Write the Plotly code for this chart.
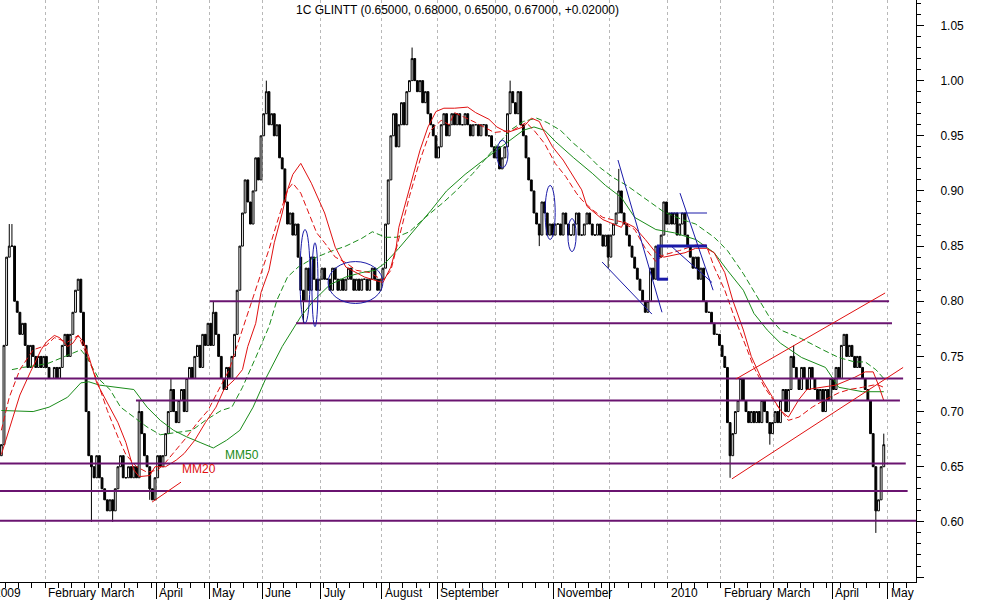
import plotly.graph_objects as go

# ---------------- data ----------------
first_open = 0.66
closes = [
    0.67, 0.76, 0.84, 0.85, 0.85, 0.80, 0.79, 0.77, 0.78, 0.76,
    0.74, 0.76, 0.75, 0.74, 0.75, 0.74, 0.75, 0.74, 0.73, 0.73,
    0.74, 0.73, 0.74, 0.76, 0.77, 0.75, 0.77, 0.79, 0.81, 0.82,
    0.79, 0.76, 0.70, 0.66, 0.65, 0.64, 0.66, 0.64, 0.63, 0.62,
    0.61, 0.62, 0.61, 0.63, 0.65, 0.66, 0.64, 0.64, 0.65, 0.64,
    0.65, 0.64, 0.70, 0.68, 0.66, 0.65, 0.63, 0.62, 0.64, 0.66,
    0.65, 0.66, 0.68, 0.70, 0.72, 0.70, 0.69, 0.71, 0.72, 0.70,
    0.73, 0.74, 0.73, 0.75, 0.76, 0.74, 0.77, 0.76, 0.78, 0.76,
    0.79, 0.77, 0.75, 0.73, 0.72, 0.74, 0.73, 0.75, 0.77, 0.81,
    0.85, 0.88, 0.91, 0.89, 0.87, 0.90, 0.93, 0.91, 0.95, 0.97,
    0.99, 0.96, 0.97, 0.95, 0.96, 0.93, 0.92, 0.89, 0.87, 0.88,
    0.86, 0.87, 0.84, 0.81, 0.80, 0.83, 0.81, 0.84, 0.82, 0.81,
    0.82, 0.83, 0.82, 0.82, 0.81, 0.83, 0.82, 0.81, 0.82, 0.81,
    0.82, 0.83, 0.82, 0.81, 0.82, 0.81, 0.82, 0.82, 0.81, 0.82,
    0.83, 0.82, 0.81, 0.82, 0.83, 0.87, 0.91, 0.95, 0.97, 0.94,
    0.96, 0.98, 0.96, 0.99, 1.00, 1.02, 1.00, 0.99, 1.00, 0.98,
    0.99, 0.97, 0.96, 0.95, 0.93, 0.94, 0.96, 0.97, 0.95, 0.96,
    0.97, 0.96, 0.97, 0.96, 0.96, 0.97, 0.96, 0.95, 0.96, 0.96,
    0.95, 0.96, 0.96, 0.95, 0.95, 0.94, 0.93, 0.94, 0.92, 0.93,
    0.94, 0.97, 0.99, 0.98, 0.97, 0.99, 0.96, 0.95, 0.93, 0.91,
    0.90, 0.88, 0.87, 0.86, 0.89, 0.88, 0.86, 0.87, 0.86, 0.87,
    0.87, 0.86, 0.88, 0.87, 0.86, 0.86, 0.87, 0.88, 0.86, 0.86,
    0.87, 0.88, 0.87, 0.86, 0.86, 0.87, 0.86, 0.85, 0.86, 0.84,
    0.86, 0.87, 0.88, 0.90, 0.88, 0.87, 0.86, 0.85, 0.84, 0.83,
    0.82, 0.81, 0.80, 0.79, 0.80, 0.83, 0.82, 0.85, 0.84, 0.86,
    0.89, 0.87, 0.88, 0.87, 0.88, 0.86, 0.87, 0.88, 0.86, 0.85,
    0.84, 0.83, 0.84, 0.82, 0.83, 0.80, 0.79, 0.79, 0.78, 0.77,
    0.77, 0.76, 0.75, 0.74, 0.69, 0.66, 0.68, 0.70, 0.71, 0.73,
    0.71, 0.70, 0.69, 0.70, 0.69, 0.70, 0.69, 0.71, 0.70, 0.69,
    0.68, 0.69, 0.70, 0.69, 0.71, 0.72, 0.70, 0.72, 0.75, 0.74,
    0.73, 0.72, 0.74, 0.73, 0.72, 0.74, 0.73, 0.72, 0.71, 0.72,
    0.70, 0.72, 0.71, 0.73, 0.72, 0.74, 0.73, 0.76, 0.77, 0.75,
    0.76, 0.75, 0.74, 0.75, 0.74, 0.73, 0.72, 0.71, 0.68, 0.65,
    0.61, 0.62, 0.65, 0.67,
]
# notable wick extremes (day index -> price)
high_marks = {3: 0.87, 4: 0.87, 29: 0.82, 52: 0.71, 64: 0.73, 80: 0.80, 100: 1.00,
              155: 1.03, 192: 1.00, 233: 0.92, 250: 0.89, 299: 0.76, 318: 0.77, 333: 0.68}
low_marks = {34: 0.60, 42: 0.60, 56: 0.62, 114: 0.78, 203: 0.85, 229: 0.83,
             243: 0.79, 275: 0.64, 290: 0.67, 330: 0.59}

# moving averages (day index, price)
mm20_a_x = [0, 3, 7, 11, 15, 17, 20, 22, 25, 27, 29, 31, 33, 36, 40, 44, 47, 50, 52, 56, 58, 62,
            66, 69, 73, 77, 81, 84, 88, 91, 93, 96, 98, 101, 103, 106, 108, 110, 113, 117, 122,
            126, 130, 134, 137, 141, 144, 147, 149, 150, 154, 158, 161, 164, 167, 171, 176, 179,
            184, 187, 191, 197, 200, 203, 205, 208, 212, 215, 219, 221, 227, 230, 234, 235, 239,
            243, 247, 250, 254, 258, 262, 266, 269, 273, 276, 280, 283, 287, 291, 294, 297, 301,
            304, 310, 315, 318, 322, 326, 329, 331, 333]
mm20_a_y = [0.661, 0.685, 0.715, 0.736, 0.756, 0.763, 0.769, 0.767, 0.759, 0.762, 0.769, 0.763,
            0.750, 0.726, 0.708, 0.690, 0.672, 0.647, 0.641, 0.642, 0.650, 0.650, 0.656, 0.662,
            0.674, 0.690, 0.704, 0.720, 0.729, 0.738, 0.759, 0.780, 0.808, 0.828, 0.853, 0.880,
            0.901, 0.915, 0.925, 0.907, 0.880, 0.849, 0.831, 0.826, 0.822, 0.819, 0.817, 0.831,
            0.849, 0.867, 0.901, 0.937, 0.958, 0.972, 0.975, 0.975, 0.976, 0.971, 0.965, 0.958,
            0.953, 0.958, 0.966, 0.963, 0.953, 0.940, 0.928, 0.916, 0.901, 0.886, 0.874, 0.871,
            0.867, 0.872, 0.867, 0.856, 0.844, 0.840, 0.842, 0.844, 0.848, 0.848, 0.844, 0.826,
            0.801, 0.774, 0.750, 0.729, 0.713, 0.701, 0.695, 0.711, 0.720, 0.722, 0.724, 0.727,
            0.731, 0.736, 0.736, 0.724, 0.710]
mm20_b_x = [0, 3, 7, 12, 17, 20, 25, 29, 32, 36, 40, 44, 47, 51, 55, 59, 62, 66, 70, 74, 78, 81,
            86, 89, 93, 97, 101, 104, 108, 110, 113, 115, 119, 122, 126, 130, 134, 139, 144, 147,
            150, 154, 158, 162, 166, 169, 171, 179, 186, 193, 198, 201, 205, 209, 213, 217, 219,
            223, 227, 230, 234, 239, 243, 247, 250, 256, 262, 266, 269, 273, 277, 281, 284, 288,
            292, 297, 301, 306, 311, 316, 320, 325, 329, 331, 333]
mm20_b_y = [0.683, 0.713, 0.738, 0.756, 0.760, 0.767, 0.763, 0.769, 0.753, 0.729, 0.701, 0.677,
            0.661, 0.650, 0.645, 0.647, 0.654, 0.665, 0.677, 0.690, 0.701, 0.715, 0.738, 0.760,
            0.789, 0.819, 0.847, 0.871, 0.901, 0.907, 0.898, 0.886, 0.862, 0.853, 0.840, 0.835,
            0.828, 0.826, 0.819, 0.828, 0.856, 0.895, 0.928, 0.955, 0.964, 0.960, 0.971, 0.962,
            0.953, 0.955, 0.962, 0.955, 0.943, 0.925, 0.913, 0.898, 0.892, 0.883, 0.876, 0.874,
            0.872, 0.865, 0.848, 0.836, 0.842, 0.846, 0.851, 0.851, 0.831, 0.810, 0.783, 0.759,
            0.740, 0.722, 0.708, 0.692, 0.695, 0.704, 0.711, 0.717, 0.720, 0.722, 0.724, 0.724,
            0.722]
mm50_a_x = [0, 12, 18, 25, 30, 33, 37, 44, 50, 55, 60, 65, 70, 75, 80, 85, 90, 95, 100, 106, 113,
            118, 124, 130, 136, 141, 145, 150, 155, 162, 168, 175, 182, 187, 192, 197, 201, 205,
            209, 216, 223, 228, 234, 239, 247, 254, 262, 269, 274, 280, 284, 289, 294, 302, 311,
            316, 325, 333]
mm50_a_y = [0.701, 0.700, 0.704, 0.713, 0.726, 0.727, 0.724, 0.722, 0.720, 0.704, 0.692, 0.683,
            0.677, 0.672, 0.667, 0.674, 0.683, 0.704, 0.731, 0.759, 0.786, 0.801, 0.815, 0.822,
            0.826, 0.828, 0.835, 0.848, 0.862, 0.882, 0.900, 0.915, 0.928, 0.937, 0.946, 0.955,
            0.958, 0.955, 0.945, 0.930, 0.916, 0.905, 0.894, 0.876, 0.865, 0.862, 0.856, 0.844,
            0.828, 0.810, 0.789, 0.774, 0.762, 0.749, 0.740, 0.722, 0.718, 0.718]
mm50_b_x = [4, 8, 14, 18, 23, 27, 30, 32, 35, 37, 41, 45, 50, 55, 60, 67, 72, 77, 83, 87, 91, 96,
            101, 104, 108, 112, 117, 124, 130, 136, 140, 145, 149, 154, 160, 167, 172, 178, 183,
            187, 192, 197, 202, 206, 211, 216, 221, 226, 231, 236, 243, 250, 257, 262, 269, 274,
            280, 285, 290, 294, 302, 310, 316, 322, 326, 330, 333]
mm50_b_y = [0.738, 0.740, 0.742, 0.744, 0.749, 0.753, 0.756, 0.750, 0.738, 0.729, 0.720, 0.704,
            0.695, 0.686, 0.679, 0.681, 0.683, 0.692, 0.701, 0.704, 0.722, 0.749, 0.777, 0.801,
            0.822, 0.831, 0.838, 0.845, 0.850, 0.857, 0.863, 0.858, 0.858, 0.863, 0.876, 0.890,
            0.901, 0.916, 0.930, 0.942, 0.955, 0.963, 0.966, 0.962, 0.955, 0.943, 0.933, 0.921,
            0.912, 0.905, 0.893, 0.881, 0.874, 0.870, 0.858, 0.846, 0.825, 0.805, 0.785, 0.774,
            0.766, 0.756, 0.749, 0.745, 0.745, 0.738, 0.730]

# horizontal support / resistance levels: (price, start day, end day)
level_prices = [0.80, 0.78, 0.73, 0.71, 0.653, 0.628, 0.601]
level_starts = [78.7, 111.2, 4.8, 50.8, -1.0, -1.0, -1.0]
level_ends = [335.0, 336.1, 340.3, 339.1, 341.3, 342.0, 346.0]

# red trend lines: (day0, price0, day1, price1)
red_lines = [(56.9, 0.618, 67.8, 0.636), (277.2, 0.7295, 333.5, 0.8075), (275.7, 0.639, 340.3, 0.740)]
# blue ellipses: (day0, day1, price_low, price_high)
blue_ellipses = [(112.7, 116.5, 0.780, 0.865), (117.2, 119.5, 0.777, 0.853), (123.3, 144.0, 0.798, 0.836),
                 (187.0, 191.2, 0.921, 0.946), (205.2, 209.0, 0.856, 0.905), (213.8, 216.9, 0.845, 0.875)]
# blue thin lines
blue_lines = [(226.7, 0.8356, 245.5, 0.7884), (232.7, 0.928, 249.3, 0.790), (256.1, 0.898, 268.6, 0.810),
              (252.3, 0.88, 266.3, 0.88), (252.3, 0.851, 268.2, 0.817)]
# blue thick bracket
blue_thick = [(247.4, 0.85, 266.3, 0.85), (247.4, 0.82, 251.6, 0.82), (247.8, 0.82, 247.8, 0.85)]

month_bounds = [-3.9, 16.5, 36.5, 58.5, 78.5, 98.5, 120.5, 143.5, 164.5, 186.5, 208.5, 229.5,
                251.5, 271.5, 291.5, 313.5, 334.5]
month_labels = ['2009', 'February', 'March', 'April', 'May', 'June', 'July', 'August', 'September',
                '', 'November', '', '2010', 'February', 'March', 'April', 'May']
title_text = '1C GLINTT (0.65000, 0.68000, 0.65000, 0.67000, +0.02000)'

# ---------------- build ----------------
days = list(range(len(closes)))
opens = [first_open] + closes[:-1]
highs = [max(o, c) for o, c in zip(opens, closes)]
lows = [min(o, c) for o, c in zip(opens, closes)]
for k, v in high_marks.items():
    highs[k] = max(highs[k], v)
for k, v in low_marks.items():
    lows[k] = min(lows[k], v)

XMIN, XMAX = -0.5, 345.16
YMIN, YMAX = 0.5455, 1.0731
FONT = 'Liberation Sans, Arial, sans-serif'

fig = go.Figure()
fig.add_trace(go.Candlestick(
    x=days, open=opens, high=highs, low=lows, close=closes,
    increasing=dict(line=dict(color='black', width=1), fillcolor='white'),
    decreasing=dict(line=dict(color='black', width=1), fillcolor='black'),
    whiskerwidth=0, showlegend=False, hoverinfo='skip'))

fig.add_trace(go.Scatter(x=mm50_a_x, y=mm50_a_y, mode='lines', line=dict(color='#1a8c1a', width=1), showlegend=False))
fig.add_trace(go.Scatter(x=mm50_b_x, y=mm50_b_y, mode='lines', line=dict(color='#1a8c1a', width=1, dash='6px,3px'), showlegend=False))
fig.add_trace(go.Scatter(x=mm20_a_x, y=mm20_a_y, mode='lines', line=dict(color='#e01010', width=1), showlegend=False))
fig.add_trace(go.Scatter(x=mm20_b_x, y=mm20_b_y, mode='lines', line=dict(color='#e01010', width=1, dash='6px,3px'), showlegend=False))

shapes = []
for p, s, e in zip(level_prices, level_starts, level_ends):
    shapes.append(dict(type='line', xref='x', yref='y', x0=s, x1=e, y0=p, y1=p,
                       line=dict(color='#6a1470', width=2)))
for x0, y0, x1, y1 in red_lines:
    shapes.append(dict(type='line', xref='x', yref='y', x0=x0, y0=y0, x1=x1, y1=y1,
                       line=dict(color='#e01010', width=1)))
for x0, x1, y0, y1 in blue_ellipses:
    shapes.append(dict(type='circle', xref='x', yref='y', x0=x0, x1=x1, y0=y0, y1=y1,
                       line=dict(color='#1a1aa8', width=1)))
for x0, y0, x1, y1 in blue_lines:
    shapes.append(dict(type='line', xref='x', yref='y', x0=x0, y0=y0, x1=x1, y1=y1,
                       line=dict(color='#1a1aa8', width=1)))
for x0, y0, x1, y1 in blue_thick:
    shapes.append(dict(type='line', xref='x', yref='y', x0=x0, y0=y0, x1=x1, y1=y1,
                       line=dict(color='#1a1aa8', width=3)))

annotations = [
    dict(text=title_text, xref='paper', yref='paper', x=0.499, y=0.983, showarrow=False,
         font=dict(family=FONT, size=12, color='black'), xanchor='center', yanchor='middle'),
    dict(text='MM50', xref='x', yref='y', x=90.8, y=0.661, showarrow=False,
         font=dict(family=FONT, size=12, color='#1a8c1a')),
    dict(text='MM20', xref='x', yref='y', x=74.6, y=0.648, showarrow=False,
         font=dict(family=FONT, size=12, color='#e01010')),
]
for b, lab in zip(month_bounds, month_labels):
    if not lab:
        continue
    annotations.append(dict(text=lab, xref='paper', yref='paper',
                            x=(b - XMIN) / (XMAX - XMIN), y=-0.0185, xanchor='left', yanchor='middle',
                            xshift=1, showarrow=False, font=dict(family=FONT, size=12, color='black')))

week_ticks = [d + 0.5 for d in range(1, 345, 5)]

fig.update_layout(
    width=992, height=611, margin=dict(l=0, r=76, t=0, b=29, autoexpand=False),
    paper_bgcolor='white', plot_bgcolor='white', shapes=shapes, annotations=annotations,
    showlegend=False, boxgap=0.0,
    xaxis=dict(range=[XMIN, XMAX], rangeslider=dict(visible=False), showline=True, linecolor='black',
               linewidth=1, tickmode='array', tickvals=month_bounds[1:], ticktext=['' for _ in month_bounds[1:]],
               ticks='outside', ticklen=16, tickcolor='black', showgrid=True, gridcolor='#b8b8b8',
               griddash='3px,3px', gridwidth=1, zeroline=False, automargin=False,
               minor=dict(tickmode='array', tickvals=week_ticks, ticks='outside', ticklen=5,
                          tickcolor='black', showgrid=False)),
    yaxis=dict(range=[YMIN, YMAX], side='right', showline=True, linecolor='black', linewidth=1,
               tickmode='array', tickvals=[0.55, 0.60, 0.65, 0.70, 0.75, 0.80, 0.85, 0.90, 0.95, 1.00, 1.05],
               ticktext=['', '0.60', '0.65', '0.70', '0.75', '0.80', '0.85', '0.90', '0.95', '1.00', '1.05'],
               ticks='outside', ticklen=7, tickcolor='black', showgrid=False, zeroline=False,
               ticklabelstandoff=14, tickfont=dict(family=FONT, size=12, color='black'), automargin=False,
               minor=dict(dtick=0.01, tick0=0.55, ticks='outside', ticklen=4, tickcolor='black', showgrid=False)),
)

fig.write_html('out.html', config={'displayModeBar': False},
               post_script="document.body.style.margin='0';document.body.style.overflow='hidden';")
